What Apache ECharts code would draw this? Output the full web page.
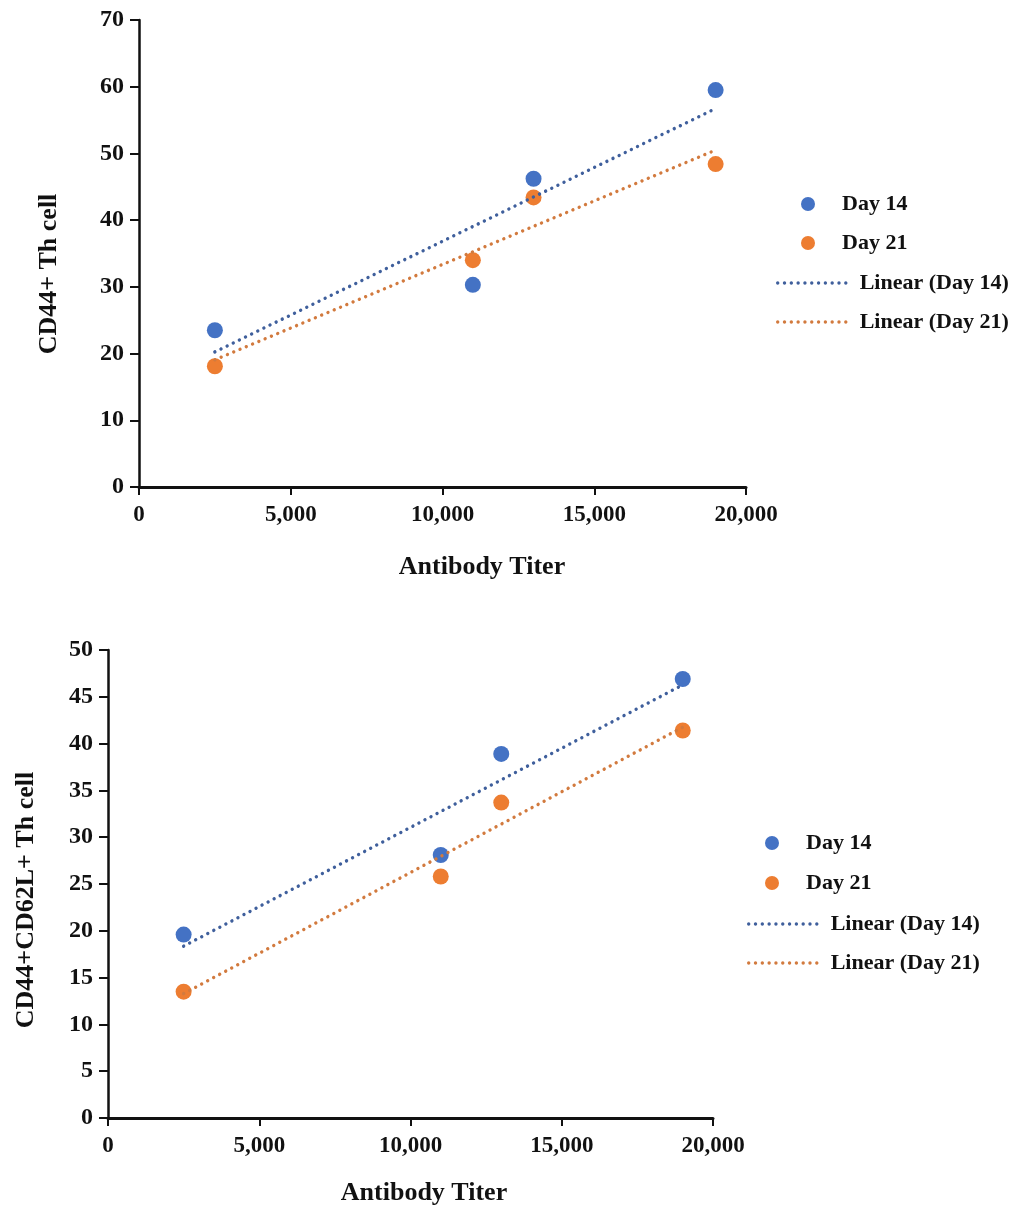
<!DOCTYPE html>
<html>
<head>
<meta charset="utf-8">
<script src="https://cdn.jsdelivr.net/npm/echarts@6/dist/echarts.min.js"></script>
<style>
  html, body { margin: 0; padding: 0; background: #fff; }
  #chart { width: 1025px; height: 1211px; }
</style>
</head>
<body>
<div id="chart"></div>
<script>
// Antibody titer (x) for each sample
const titers = [2500, 11000, 13000, 19000];

// Upper panel: CD44+ Th cell
const cd44Day14 = [23.5, 30.3, 46.2, 59.5];
const cd44Day21 = [18.1, 34.0, 43.4, 48.4];

// Lower panel: CD44+CD62L+ Th cell
const cd62Day14 = [19.6, 28.1, 38.9, 46.9];
const cd62Day21 = [13.5, 25.8, 33.7, 41.4];

// Axis ranges / tick steps
const xTicks = [0, 5000, 10000, 15000, 20000];
const yTopTicks = [0, 10, 20, 30, 40, 50, 60, 70];
const yBottomTicks = [0, 5, 10, 15, 20, 25, 30, 35, 40, 45, 50];

const FONT = '"Liberation Serif", "Times New Roman", serif';
const BLUE = '#4472C4';
const ORANGE = '#ED7D31';
const BLUE_DOT = '#3f5f9c';
const ORANGE_DOT = '#d27a3e';
const INK = '#111';
const DOT_WIDTH = 3.4;
const DOT_DASH = [0.01, 6.8];

// Least-squares fit, evaluated at the first and last titer (trendline ends)
function trend(xs, ys) {
  const n = xs.length;
  const mx = xs.reduce((a, b) => a + b, 0) / n;
  const my = ys.reduce((a, b) => a + b, 0) / n;
  let sxy = 0, sxx = 0;
  for (let i = 0; i < n; i++) {
    sxy += (xs[i] - mx) * (ys[i] - my);
    sxx += (xs[i] - mx) * (xs[i] - mx);
  }
  const k = sxy / sxx;
  const x0 = Math.min(...xs), x1 = Math.max(...xs);
  return [[x0, my + k * (x0 - mx)], [x1, my + k * (x1 - mx)]];
}

const pairs = (xs, ys) => xs.map((x, i) => [x, ys[i]]);

function xAxis(gridIndex) {
  return {
    type: 'value', gridIndex,
    min: xTicks[0], max: xTicks[xTicks.length - 1],
    interval: xTicks[1] - xTicks[0],
    axisLine: { show: true, onZero: false, lineStyle: { color: INK, width: 3 } },
    axisTick: { show: true, length: 8, lineStyle: { color: INK, width: 2 } },
    axisLabel: {
      margin: 17, color: INK, fontFamily: FONT, fontWeight: 'bold', fontSize: 23,
      formatter: v => v.toLocaleString('en-US')
    },
    splitLine: { show: false }
  };
}

function yAxis(gridIndex, ticks) {
  return {
    type: 'value', gridIndex,
    min: ticks[0], max: ticks[ticks.length - 1],
    interval: ticks[1] - ticks[0],
    axisLine: { show: true, lineStyle: { color: INK, width: 2.5 } },
    axisTick: { show: true, length: 9, lineStyle: { color: INK, width: 2 } },
    axisLabel: { margin: 15, color: INK, fontFamily: FONT, fontWeight: 'bold', fontSize: 24 },
    splitLine: { show: false }
  };
}

function scatter(name, idx, xs, ys, color) {
  return {
    name, type: 'scatter', xAxisIndex: idx, yAxisIndex: idx,
    data: pairs(xs, ys), symbol: 'circle', symbolSize: 16,
    itemStyle: { color, opacity: 1 }, z: 3
  };
}

function trendLine(name, idx, xs, ys, color) {
  return {
    name, type: 'line', xAxisIndex: idx, yAxisIndex: idx,
    data: trend(xs, ys), symbol: 'none', showSymbol: false,
    lineStyle: { color, width: DOT_WIDTH, type: DOT_DASH, cap: 'round' },
    itemStyle: { color }, z: 4, silent: true
  };
}

function legendRow(name, left, centerY, isLine, textPad) {
  const row = {
    data: [name], left, top: centerY - 11, padding: 0, selectedMode: false,
    itemWidth: isLine ? 70 : 14, itemHeight: 14,
    textStyle: {
      color: INK, fontFamily: FONT, fontWeight: 'bold', fontSize: 22,
      lineHeight: 22, padding: [0, 0, 0, textPad]
    }
  };
  if (isLine) {
    // dotted stroke only, no marker in the middle of the key
    row.itemStyle = { opacity: 0, borderWidth: 0 };
    row.lineStyle = { width: DOT_WIDTH, type: DOT_DASH, cap: 'round' };
  }
  return row;
}

function axisTitle(text, x, y, vertical) {
  return {
    type: 'text', x, y, rotation: vertical ? Math.PI / 2 : 0,
    style: {
      text, fill: INK, font: 'bold 26px ' + FONT,
      align: 'center', verticalAlign: 'middle'
    }
  };
}

const chart = echarts.init(document.getElementById('chart'), null, { renderer: 'canvas' });

chart.setOption({
  backgroundColor: '#fff',
  animation: false,
  grid: [
    { left: 139, top: 20, width: 607, height: 467, containLabel: false, outerBoundsMode: 'none' },
    { left: 108, top: 650, width: 605, height: 468, containLabel: false, outerBoundsMode: 'none' }
  ],
  xAxis: [xAxis(0), xAxis(1)],
  yAxis: [yAxis(0, yTopTicks), yAxis(1, yBottomTicks)],
  legend: [
    legendRow('Day 14', 801, 204, false, 22),
    legendRow('Day 21', 801, 243, false, 22),
    legendRow('Linear (Day 14)', 776, 283, true, 7),
    legendRow('Linear (Day 21)', 776, 322, true, 7),
    legendRow('Day 14', 765, 843, false, 22),
    legendRow('Day 21', 765, 883, false, 22),
    legendRow('Linear (Day 14)', 747, 924, true, 7),
    legendRow('Linear (Day 21)', 747, 963, true, 7)
  ],
  graphic: [
    axisTitle('Antibody Titer', 482, 567, false),
    axisTitle('CD44+ Th cell', 49, 274, true),
    axisTitle('Antibody Titer', 424, 1193, false),
    axisTitle('CD44+CD62L+ Th cell', 26, 900, true)
  ],
  series: [
    scatter('Day 14', 0, titers, cd44Day14, BLUE),
    scatter('Day 21', 0, titers, cd44Day21, ORANGE),
    trendLine('Linear (Day 14)', 0, titers, cd44Day14, BLUE_DOT),
    trendLine('Linear (Day 21)', 0, titers, cd44Day21, ORANGE_DOT),
    scatter('Day 14', 1, titers, cd62Day14, BLUE),
    scatter('Day 21', 1, titers, cd62Day21, ORANGE),
    trendLine('Linear (Day 14)', 1, titers, cd62Day14, BLUE_DOT),
    trendLine('Linear (Day 21)', 1, titers, cd62Day21, ORANGE_DOT)
  ]
});
</script>
</body>
</html>
